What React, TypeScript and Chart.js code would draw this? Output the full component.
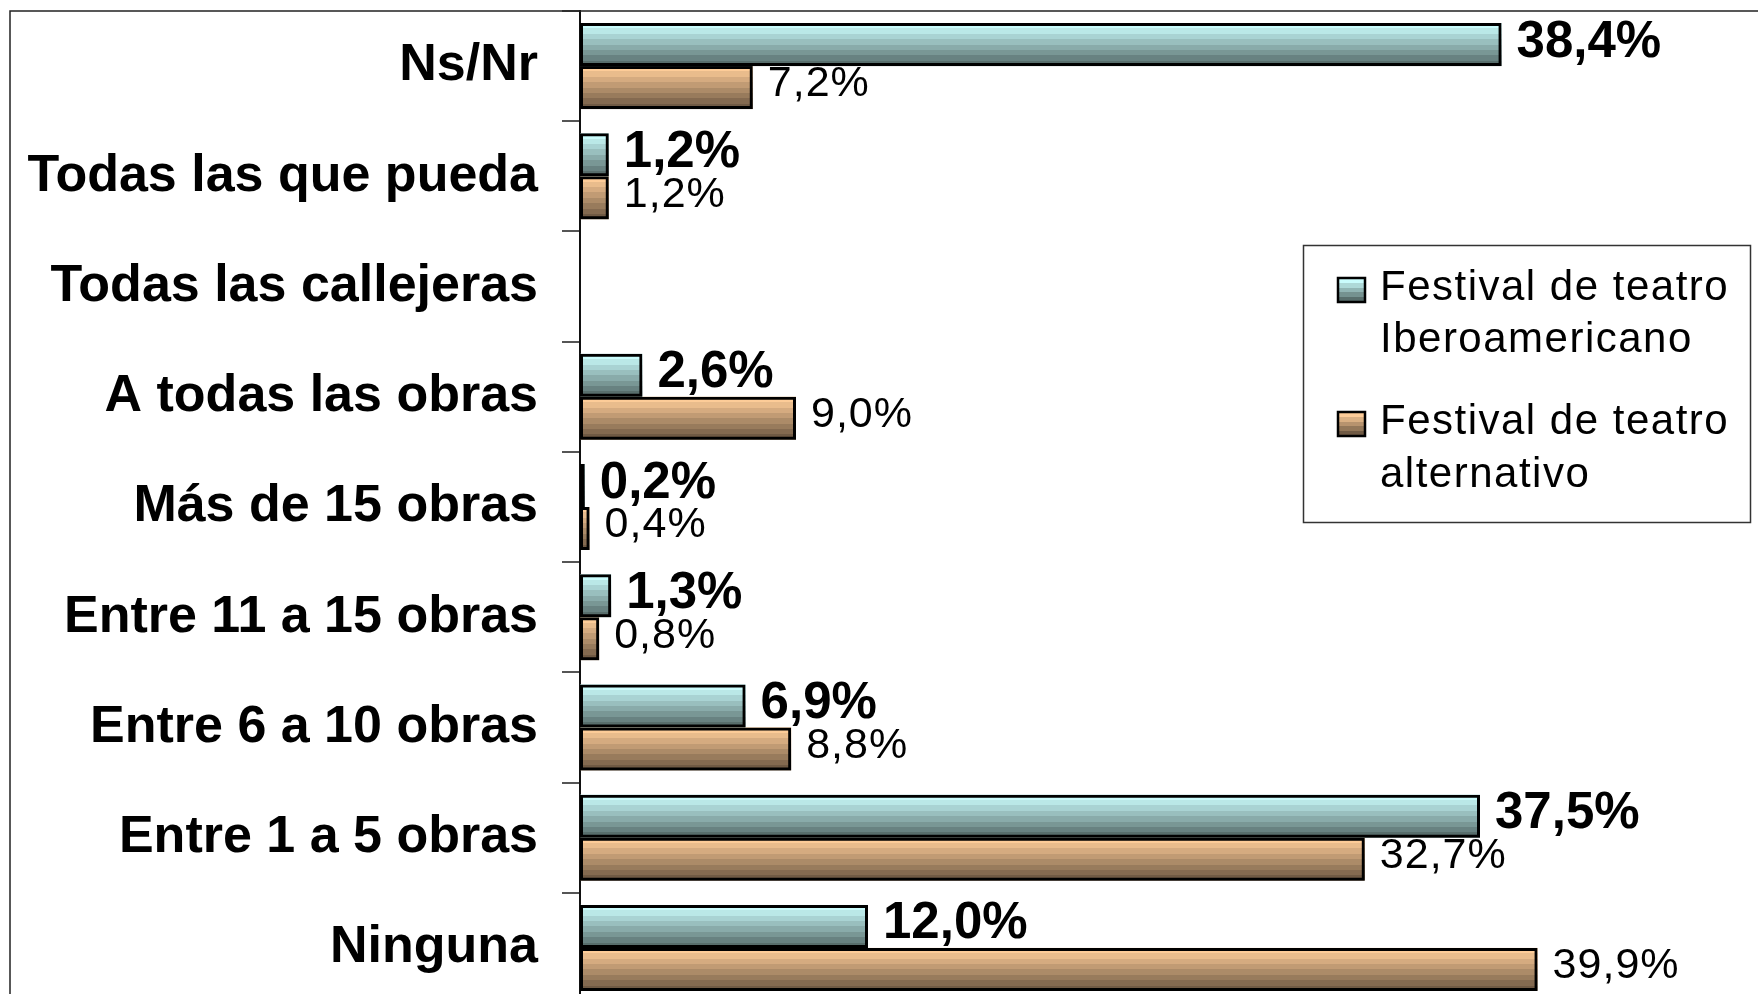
import React, { useEffect, useRef } from "react";
import { Chart, registerables } from "chart.js";

Chart.register(...registerables);

const categories = [
  "Ns/Nr",
  "Todas las que pueda",
  "Todas las callejeras",
  "A todas las obras",
  "Más de 15 obras",
  "Entre 11 a 15 obras",
  "Entre 6 a 10 obras",
  "Entre 1 a 5 obras",
  "Ninguna",
];
const iberoValues = [38.4, 1.2, null, 2.6, 0.2, 1.3, 6.9, 37.5, 12.0];
const alternativoValues = [7.2, 1.2, null, 9.0, 0.4, 0.8, 8.8, 32.7, 39.9];
const seriesNames = [
  ["Festival de teatro", "Iberoamericano"],
  ["Festival de teatro", "alternativo"],
];
const xMin = 0;
const xMax = 50;

const FONT = '"Liberation Sans", Arial, Helvetica, sans-serif';
const gradTop = [
  [202, 252, 252],
  [253, 204, 152],
];
const gradBottom = [
  [88, 110, 108],
  [112, 90, 68],
];

function bandGradient(ctx: CanvasRenderingContext2D, y0: number, y1: number, top: number[], bottom: number[], bands = 8) {
  const g = ctx.createLinearGradient(0, y0, 0, y1);
  for (let i = 0; i < bands; i++) {
    const t = i / (bands - 1);
    const c = top.map((v, k) => Math.round(v + (bottom[k] - v) * t));
    const col = `rgb(${c.join(",")})`;
    g.addColorStop(i / bands, col);
    g.addColorStop((i + 1) / bands, col);
  }
  return g;
}

const fmt = (v: number) => v.toFixed(1).replace(".", ",") + "%";

const barFillPlugin = {
  id: "barFill",
  beforeDatasetDraw(chart: any, args: any) {
    const ctx = chart.ctx as CanvasRenderingContext2D;
    const idx = args.index;
    const data = chart.data.datasets[idx].data;
    ctx.save();
    args.meta.data.forEach((el: any, i: number) => {
      if (data[i] === null || data[i] === undefined) return;
      const { x, y, base, height } = el.getProps(["x", "y", "base", "height"], true);
      if (!isFinite(x) || !isFinite(y)) return;
      const left = Math.min(x, base);
      const right = Math.max(x, base);
      const top = y - height / 2;
      ctx.fillStyle = bandGradient(ctx, top, top + height, gradTop[idx], gradBottom[idx]);
      ctx.fillRect(left, top, right - left, height);
    });
    ctx.restore();
  },
  afterDatasetsDraw(chart: any) {
    const ctx = chart.ctx as any;
    chart.data.datasets.forEach((ds: any, di: number) => {
      const meta = chart.getDatasetMeta(di);
      meta.data.forEach((el: any, i: number) => {
        const v = ds.data[i];
        if (v === null || v === undefined) return;
        const { x, y } = el.getProps(["x", "y"], true);
        ctx.save();
        ctx.fillStyle = "#000";
        ctx.textAlign = "left";
        ctx.textBaseline = "middle";
        if (di === 0) {
          ctx.font = `bold 51px ${FONT}`;
          ctx.letterSpacing = "0px";
          ctx.fillText(fmt(v), x + 15, y - 2);
        } else {
          ctx.font = `43px ${FONT}`;
          ctx.letterSpacing = "1px";
          ctx.fillText(fmt(v), x + 15, y - 3);
        }
        ctx.restore();
      });
    });
  },
  afterDraw(chart: any) {
    const ctx = chart.ctx as any;
    ctx.save();
    // outer frame
    ctx.strokeStyle = "#222";
    ctx.lineWidth = 1.5;
    ctx.beginPath();
    ctx.moveTo(10, 3000);
    ctx.lineTo(10, 11);
    ctx.lineTo(3000, 11);
    ctx.stroke();

    // legend
    const bx = 1303, by = 245, bw = 447, bh = 277;
    ctx.fillStyle = "#fff";
    ctx.fillRect(bx, by, bw, bh);
    ctx.strokeStyle = "#333";
    ctx.lineWidth = 1.5;
    ctx.strokeRect(bx + 0.5, by + 0.5, bw, bh);
    const itemTops = [278, 412];
    const baselines = [
      [300, 352],
      [434, 487],
    ];
    seriesNames.forEach((lines, i) => {
      const my = itemTops[i];
      ctx.fillStyle = bandGradient(ctx, my, my + 24, gradTop[i], gradBottom[i], 5);
      ctx.fillRect(1338, my, 27, 24);
      ctx.strokeStyle = "#000";
      ctx.lineWidth = 2.5;
      ctx.strokeRect(1338, my, 27, 24);
      ctx.fillStyle = "#000";
      ctx.font = `42px ${FONT}`;
      ctx.letterSpacing = "1.5px";
      ctx.textAlign = "left";
      ctx.textBaseline = "alphabetic";
      lines.forEach((t, k) => ctx.fillText(t, 1380, baselines[i][k]));
    });
    ctx.restore();
  },
};

export default function App() {
  const ref = useRef<HTMLCanvasElement | null>(null);
  useEffect(() => {
    if (!ref.current) return;
    const chart = new Chart(ref.current, {
      type: "bar",
      data: {
        labels: categories,
        datasets: [
          {
            label: seriesNames[0].join(" "),
            data: iberoValues,
            backgroundColor: "rgba(0,0,0,0)",
            borderColor: "#000",
            borderWidth: 3,
            borderSkipped: false,
            categoryPercentage: 0.78,
            barPercentage: 1,
          },
          {
            label: seriesNames[1].join(" "),
            data: alternativoValues,
            backgroundColor: "rgba(0,0,0,0)",
            borderColor: "#000",
            borderWidth: 3,
            borderSkipped: false,
            categoryPercentage: 0.78,
            barPercentage: 1,
          },
        ],
      },
      options: {
        indexAxis: "y",
        animation: false,
        responsive: false,
        devicePixelRatio: 1,
        layout: { padding: { top: 11, bottom: 7, left: 0, right: 0 } },
        plugins: {
          legend: { display: false },
          tooltip: { enabled: false },
        },
        scales: {
          x: {
            type: "linear",
            min: xMin,
            max: xMax,
            display: false,
          },
          y: {
            type: "category",
            offset: true,
            grid: {
              display: true,
              drawOnChartArea: false,
              drawTicks: true,
              tickLength: 18,
              color: "#555",
              lineWidth: 2,
              offset: true,
            },
            border: { display: true, color: "#111", width: 2 },
            ticks: {
              color: "#000",
              autoSkip: false,
              padding: 24,
              font: { family: FONT, size: 52, weight: "bold" },
            },
            afterFit: (s: any) => {
              s.width = 580;
              s.paddingTop = 0;
              s.paddingBottom = 0;
            },
          },
        },
      } as any,
      plugins: [barFillPlugin],
    });
    return () => chart.destroy();
  }, []);

  return (
    <div
      style={{
        position: "fixed",
        left: 0,
        top: 0,
        width: 1758,
        height: 994,
        overflow: "hidden",
        background: "#fff",
      }}
    >
      <canvas ref={ref} width={1780} height={1010} />
    </div>
  );
}
